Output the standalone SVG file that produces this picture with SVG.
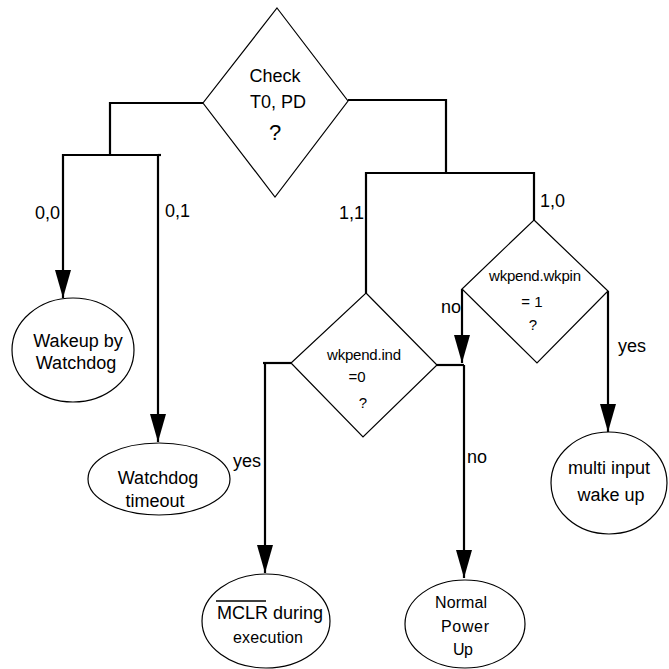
<svg xmlns="http://www.w3.org/2000/svg" width="669" height="669" viewBox="0 0 669 669">
<defs>
<marker id="arr" markerUnits="userSpaceOnUse" markerWidth="28" markerHeight="16" refX="28" refY="8" orient="auto">
<path d="M0,0 L28,8 L0,16 z" fill="#000"/>
</marker>
<style>
.shape{fill:#fff;stroke:#000;stroke-width:1.2}
.conn{fill:none;stroke:#000;stroke-width:2.2}
text{font-family:"Liberation Sans",Arial,sans-serif;fill:#000}
.t{font-size:18px;text-anchor:middle}
.s{font-size:15px;text-anchor:middle}
.m{font-size:16px;text-anchor:middle}
.lbl{font-size:18px}
</style>
</defs>
<rect width="669" height="669" fill="#fff"/>
<g id="connectors">
<polyline class="conn" points="203,103 110,103 110,155"/>
<polyline class="conn" points="158,155 63,155 63,298" marker-end="url(#arr)"/>
<polyline class="conn" points="158,155 161,155"/>
<path class="conn" d="M158,155 L158,442" marker-end="url(#arr)"/>
<polyline class="conn" points="348,100 446,100 446,173"/>
<polyline class="conn" points="366,293 366,173 534,173 534,220"/>
<polyline class="conn" points="291,363 263,363"/>
<path class="conn" d="M265,363 L265,573" marker-end="url(#arr)"/>
<polyline class="conn" points="437,365 464,365"/>
<path class="conn" d="M464,365 L464,578" marker-end="url(#arr)"/>
<path class="conn" d="M462,289 L462,363" marker-end="url(#arr)"/>
<path class="conn" d="M608,291 L608,432" marker-end="url(#arr)"/>
<text class="lbl" x="35" y="219">0,0</text>
<text class="lbl" x="165" y="217">0,1</text>
<text class="lbl" x="339" y="219">1,1</text>
<text class="lbl" x="540" y="207">1,0</text>
<text class="lbl" x="441" y="313">no</text>
<text class="lbl" x="618" y="352">yes</text>
<text class="lbl" x="233" y="467">yes</text>
<text class="lbl" x="467" y="463">no</text>
</g>
<g id="check">
<polygon class="shape" points="277,8 348,101 275,197 203,103"/>
<text class="t" x="275" y="82">Check</text>
<text class="t" x="278" y="108">T0, PD</text>
<text class="t" x="275" y="140" style="font-size:22px">?</text>
</g>
<g id="wakeup-watchdog">
<ellipse class="shape" cx="73" cy="350" rx="61" ry="52"/>
<text class="t" x="78" y="347">Wakeup by</text>
<text class="t" x="76" y="369">Watchdog</text>
</g>
<g id="watchdog-timeout">
<ellipse class="shape" cx="159" cy="479" rx="71" ry="36"/>
<text class="t" x="158" y="484">Watchdog</text>
<text class="t" x="155" y="507">timeout</text>
</g>
<g id="wkpend-ind">
<polygon class="shape" points="366,293 437,365 363,437 291,363"/>
<text class="s" x="364" y="360" textLength="74">wkpend.ind</text>
<text class="s" x="357" y="382">=0</text>
<text class="s" x="363" y="408">?</text>
</g>
<g id="wkpend-wkpin">
<polygon class="shape" points="534,220 608,291 537,363 462,289"/>
<text class="s" x="535" y="281" textLength="92">wkpend.wkpin</text>
<text class="s" x="532" y="307">= 1</text>
<text class="s" x="533" y="330">?</text>
</g>
<g id="multi-input">
<ellipse class="shape" cx="609" cy="483" rx="58" ry="51"/>
<text class="t" x="609" y="474">multi input</text>
<text class="t" x="611" y="501">wake up</text>
</g>
<g id="mclr">
<ellipse class="shape" cx="266" cy="621" rx="64" ry="47"/>
<text class="t" x="270" y="619">MCLR during</text>
<line x1="216" y1="601" x2="266" y2="601" stroke="#000" stroke-width="1.5"/>
<text class="m" x="268" y="643" textLength="70">execution</text>
</g>
<g id="normal-power-up">
<ellipse class="shape" cx="465" cy="624" rx="60" ry="44"/>
<text class="m" x="461" y="608" textLength="52">Normal</text>
<text class="m" x="465" y="632" textLength="48">Power</text>
<text class="m" x="463" y="655" textLength="20">Up</text>
</g>
</svg>
